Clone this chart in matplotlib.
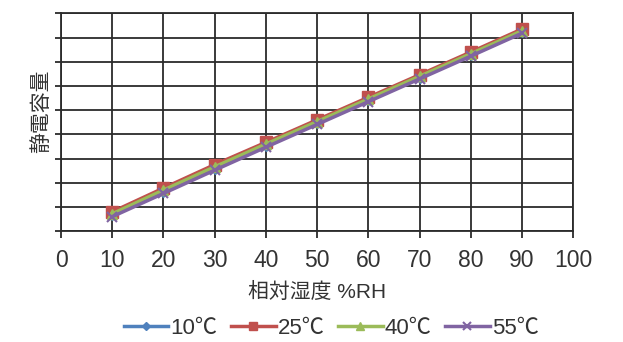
import matplotlib
matplotlib.use('Agg')
import matplotlib.pyplot as plt

# 相対湿度 (%RH)
humidity = [10, 20, 30, 40, 50, 60, 70, 80, 90]

# 静電容量 (目盛なし・相対値)
cap_10 = [0.66, 1.62, 2.58, 3.52, 4.46, 5.40, 6.34, 7.27, 8.22]
cap_25 = [0.80, 1.78, 2.75, 3.67, 4.60, 5.53, 6.46, 7.40, 8.35]
cap_40 = [0.72, 1.70, 2.66, 3.60, 4.53, 5.46, 6.40, 7.33, 8.28]
cap_55 = [0.60, 1.56, 2.52, 3.47, 4.41, 5.35, 6.29, 7.23, 8.18]

x_ticks = [0, 10, 20, 30, 40, 50, 60, 70, 80, 90, 100]
legend_labels = ['10℃', '25℃', '40℃', '55℃']

plt.rcParams['font.family'] = ['Liberation Sans', 'Noto Sans CJK JP', 'DejaVu Sans']

fig = plt.figure(figsize=(6.23, 3.42), dpi=100)
ax = fig.add_axes([0.098, 0.324, 0.822, 0.637])

grid_c = '#2b2b2b'
ax.plot(humidity, cap_10, color='#4F81BD', lw=2.5, marker='D', ms=5, label=legend_labels[0])
ax.plot(humidity, cap_25, color='#C0504D', lw=2.5, marker='s', ms=8, label=legend_labels[1])
ax.plot(humidity, cap_40, color='#9BBB59', lw=2.5, marker='^', ms=7, label=legend_labels[2])
ax.plot(humidity, cap_55, color='#8064A2', lw=2.5, marker='x', ms=7, mew=1.5, label=legend_labels[3])

ax.set_xlim(0, 100)
ax.set_ylim(0, 9)
ax.set_xticks(x_ticks)
ax.set_xticklabels([str(v) for v in x_ticks], fontsize=16.5, color='#333333')
ax.set_yticks(range(0, 10))
ax.set_yticklabels([])
ax.grid(True, color=grid_c, lw=1.3)
ax.set_axisbelow(True)
for s in ax.spines.values():
    s.set_color(grid_c)
    s.set_linewidth(1.3)
ax.tick_params(axis='x', length=5, width=1.3, color=grid_c, pad=8)
ax.tick_params(axis='y', length=4, width=1.3, color=grid_c)

ax.set_xlabel('相対湿度 %RH', fontsize=15, color='#333333', labelpad=7)
ax.set_ylabel('静電容量', fontsize=15, color='#333333')
ax.yaxis.set_label_coords(-0.02, 0.55)

fig.legend(loc='center', bbox_to_anchor=(0.532, 1 - 328 / 342), ncol=4, frameon=False,
           fontsize=16, handlelength=2.0, handletextpad=0.1, columnspacing=0.6,
           markerscale=0.75, labelcolor='#333333')

fig.savefig('out.png', dpi=100)
